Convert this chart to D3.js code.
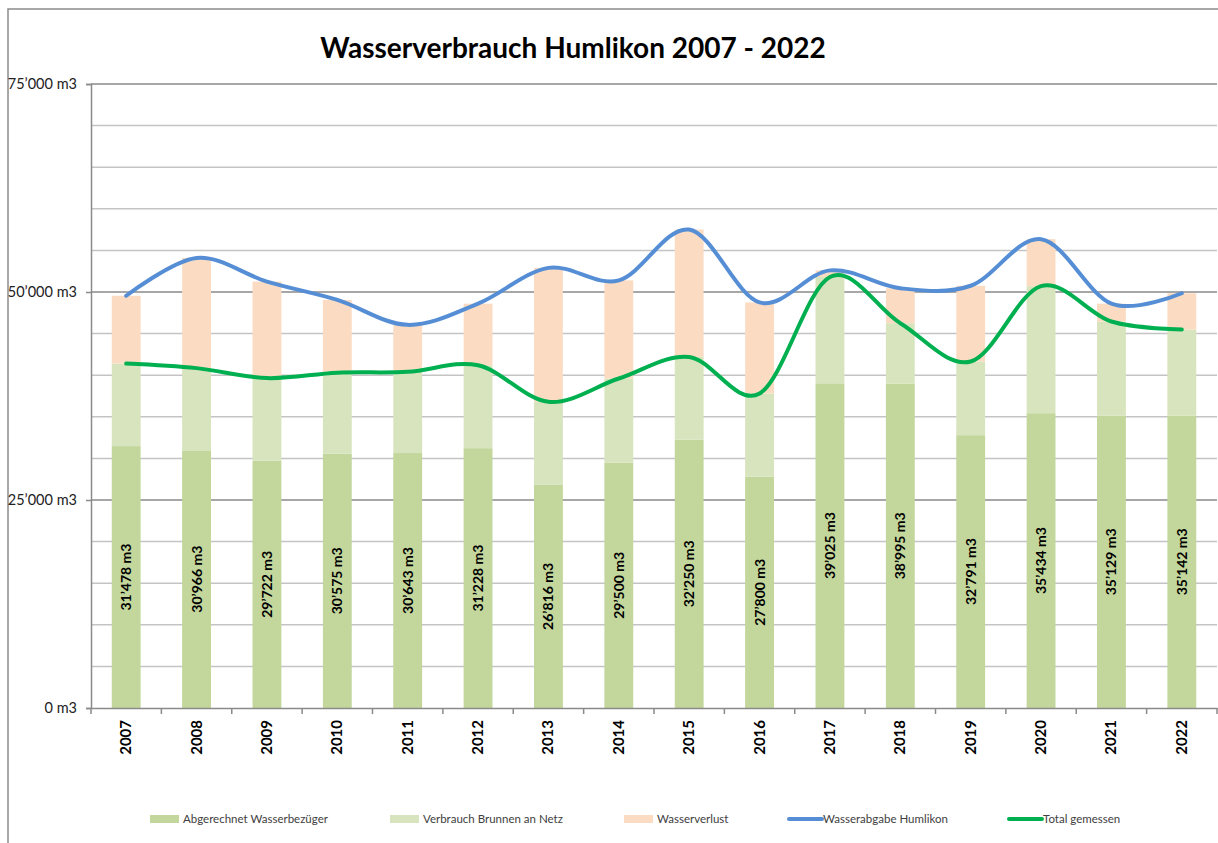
<!DOCTYPE html>
<html>
<head>
<meta charset="utf-8">
<script src="https://cdn.jsdelivr.net/npm/d3@7"></script>
<style>
  body { margin: 0; background: #fff; }
  svg { display: block; font-family: Lato, "Open Sans", sans-serif; }
</style>
</head>
<body>
<div id="chart"></div>
<script>
// values (m3)
var years = ["2007","2008","2009","2010","2011","2012","2013","2014","2015","2016","2017","2018","2019","2020","2021","2022"];
var abgerechnet = [31478, 30966, 29722, 30575, 30643, 31228, 26816, 29500, 32250, 27800, 39025, 38995, 32791, 35434, 35129, 35142];
var brunnen = [9922, 9884, 9928, 9725, 9757, 9972, 9984, 10100, 9950, 10000, 12775, 7255, 8859, 15266, 11321, 10358];
var verlust = [8150, 13250, 11600, 8750, 5650, 7400, 16100, 11800, 15300, 10950, 800, 4200, 9100, 5650, 2150, 4350];
var abgabe = [49550, 54100, 51250, 49050, 46050, 48600, 52900, 51400, 57500, 48750, 52600, 50450, 50750, 56350, 48600, 49850];
var totalGemessen = [41400, 40850, 39650, 40300, 40400, 41200, 36800, 39600, 42200, 37800, 51800, 46250, 41650, 50700, 46450, 45500];
var yTicks = [0, 25000, 50000, 75000];

var seriesNames = ["Abgerechnet Wasserbezüger", "Verbrauch Brunnen an Netz", "Wasserverlust", "Wasserabgabe Humlikon", "Total gemessen"];
var colors = ["#c3d69b", "#d7e4bd", "#fbdcc3", "#558ed5", "#00b050"];

function drawChart() {
  var w = 1218, h = 843;
  var plotLeft = 91, plotRight = 1217, plotTop = 84, plotBottom = 708;

  var svg = d3.select("#chart").append("svg")
    .attr("width", w)
    .attr("height", h);

  // outer frame (cut off at right/bottom like the original)
  svg.append("rect")
    .attr("x", 8).attr("y", 9)
    .attr("width", w + 20).attr("height", h + 20)
    .attr("fill", "none")
    .attr("stroke", "#8c8c8c")
    .attr("stroke-width", 1.5);

  svg.append("text")
    .text("Wasserverbrauch Humlikon 2007 - 2022")
    .attr("x", 573).attr("y", 58)
    .attr("text-anchor", "middle")
    .attr("font-size", 28)
    .attr("font-weight", "bold")
    .attr("fill", "#000");

  var x = d3.scaleBand().domain(years).range([plotLeft, plotRight]).paddingInner(0.59).paddingOuter(0.295);
  var xb = d3.scaleBand().domain(years).range([plotLeft, plotRight]);
  var y = d3.scaleLinear().domain([0, 75000]).range([plotBottom, plotTop]);

  var loc = d3.formatLocale({decimal: ".", thousands: "\u2019", grouping: [3], currency: ["", ""]});
  var fmt = loc.format(",d");

  // gridlines
  var minor = d3.range(5000, 75001, 5000);
  svg.append("g").selectAll("line").data(minor).join("line")
    .attr("x1", plotLeft).attr("x2", plotRight)
    .attr("y1", function(d) { return y(d); })
    .attr("y2", function(d) { return y(d); })
    .attr("stroke", function(d) { return d % 25000 === 0 ? "#8a8a8a" : "#c4c4c4"; })
    .attr("stroke-width", 1.5);

  // y axis
  var yAxis = svg.append("g")
    .attr("transform", "translate(" + plotLeft + ",0)")
    .call(d3.axisLeft(y).tickValues(yTicks).tickSize(5).tickFormat(function(d) { return fmt(d) + " m3"; }));
  yAxis.select(".domain").attr("stroke", "#8a8a8a").attr("stroke-width", 1.5);
  yAxis.selectAll(".tick line").attr("stroke", "#8a8a8a").attr("stroke-width", 1.5);
  yAxis.selectAll(".tick text")
    .attr("x", -14)
    .attr("font-size", 14.5)
    .attr("font-family", "Lato, sans-serif")
    .attr("fill", "#222");

  // stacked bars
  var stackData = years.map(function(yr, i) {
    return {year: yr, a: abgerechnet[i], b: brunnen[i], c: verlust[i]};
  });
  var stack = d3.stack().keys(["a", "b", "c"])(stackData);

  svg.append("g").selectAll("g").data(stack).join("g")
    .attr("fill", function(d, i) { return colors[i]; })
    .selectAll("rect").data(function(d) { return d; }).join("rect")
    .attr("x", function(d) { return x(d.data.year); })
    .attr("width", x.bandwidth())
    .attr("y", function(d) { return y(d[1]); })
    .attr("height", function(d) { return y(d[0]) - y(d[1]); });

  // x axis
  var xAxis = svg.append("g")
    .attr("transform", "translate(0," + plotBottom + ")")
    .call(d3.axisBottom(xb).tickSize(0).tickFormat(""));
  xAxis.select(".domain").attr("stroke", "#8a8a8a").attr("stroke-width", 1.5);
  svg.append("g").selectAll("line").data(d3.range(years.length + 1)).join("line")
    .attr("x1", function(i) { return plotLeft + i * xb.step(); })
    .attr("x2", function(i) { return plotLeft + i * xb.step(); })
    .attr("y1", plotBottom).attr("y2", plotBottom + 6)
    .attr("stroke", "#8a8a8a").attr("stroke-width", 1.5);

  svg.append("g").selectAll("text").data(years).join("text")
    .text(function(d) { return d; })
    .attr("transform", function(d) {
      return "translate(" + (xb(d) + xb.bandwidth() / 2 + 5) + "," + (plotBottom + 12) + ") rotate(-90)";
    })
    .attr("text-anchor", "end")
    .attr("font-size", 15)
    .attr("font-weight", "bold")
    .attr("fill", "#000");

  // lines
  var line = function(vals) {
    return d3.line()
      .x(function(d, i) { return x(years[i]) + x.bandwidth() / 2; })
      .y(function(d) { return y(d); })
      .curve(d3.curveCatmullRom.alpha(0))(vals);
  };
  svg.append("path").attr("d", line(abgabe))
    .attr("fill", "none").attr("stroke", colors[3]).attr("stroke-width", 4).attr("stroke-linecap", "round");
  svg.append("path").attr("d", line(totalGemessen))
    .attr("fill", "none").attr("stroke", colors[4]).attr("stroke-width", 4).attr("stroke-linecap", "round");

  // value labels in the dark bars
  svg.append("g").selectAll("text").data(abgerechnet).join("text")
    .text(function(d) { return fmt(d) + " m3"; })
    .attr("transform", function(d, i) {
      var cx = x(years[i]) + x.bandwidth() / 2 + 5;
      var cy = (y(d) + y(0)) / 2;
      return "translate(" + cx + "," + cy + ") rotate(-90)";
    })
    .attr("text-anchor", "middle")
    .attr("font-size", 14)
    .attr("font-weight", "bold")
    .attr("fill", "#000");

  // legend
  var legendX = [150, 390, 624, 789, 1009];
  var lg = svg.append("g").selectAll("g").data(seriesNames).join("g")
    .attr("transform", function(d, i) { return "translate(" + legendX[i] + ",819)"; });
  lg.each(function(d, i) {
    var g = d3.select(this);
    if (i < 3) {
      g.append("rect").attr("x", 0).attr("y", -4).attr("width", 29).attr("height", 8).attr("fill", colors[i]);
      g.append("text").text(d).attr("x", 33).attr("y", 4).attr("font-size", 11.5).attr("fill", "#404040");
    } else {
      g.append("line").attr("x1", 0).attr("x2", 33).attr("y1", 0).attr("y2", 0)
        .attr("stroke", colors[i]).attr("stroke-width", 4).attr("stroke-linecap", "round");
      g.append("text").text(d).attr("x", 34).attr("y", 4).attr("font-size", 11.5).attr("fill", "#404040");
    }
  });
}

drawChart();
</script>
</body>
</html>
